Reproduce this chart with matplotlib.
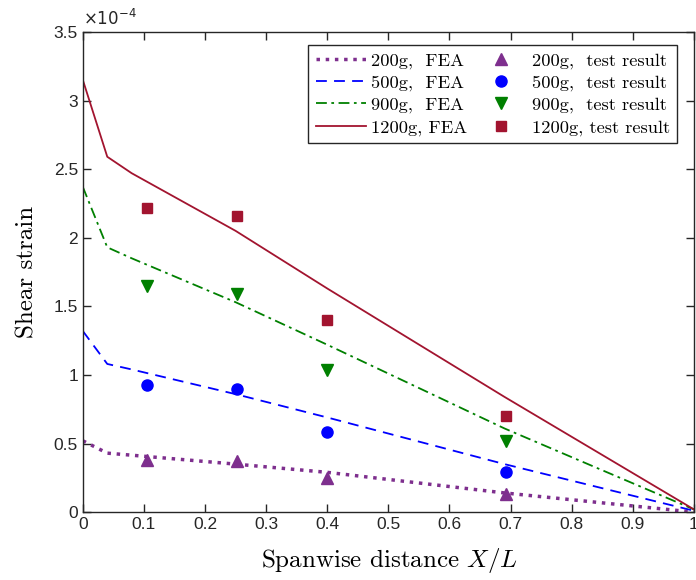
import matplotlib
matplotlib.use("Agg")
import matplotlib.pyplot as plt
import matplotlib.font_manager as fm
from matplotlib.ticker import MultipleLocator, FuncFormatter

# FEA curves (x, strain in units of 1e-4)
fea_x = [0.0, 0.04, 0.08, 0.25, 0.4, 0.69, 1.0]
fea_200 = [0.52, 0.43, 0.415, 0.35, 0.29, 0.14, 0.0]
fea_500 = [1.32, 1.08, 1.04, 0.86, 0.69, 0.35, 0.01]
fea_900 = [2.37, 1.93, 1.85, 1.53, 1.22, 0.61, 0.02]
fea_1200 = [3.15, 2.59, 2.47, 2.05, 1.63, 0.84, 0.02]

# Test results (strain in units of 1e-4)
test_x = [0.105, 0.252, 0.399, 0.693]
test_200 = [0.38, 0.37, 0.25, 0.13]
test_500 = [0.925, 0.895, 0.585, 0.29]
test_900 = [1.65, 1.59, 1.035, 0.52]
test_1200 = [2.22, 2.155, 1.40, 0.70]

purple = "#7E2F8E"
blue = "#0000FF"
green = "#008000"
red = "#A2142F"
axcol = "#262626"

plt.rcParams["mathtext.fontset"] = "cm"

serif_family = "DejaVu Serif"
try:
    fm.findfont("cmr10", fallback_to_default=False)
    serif_family = "cmr10"
except Exception:
    pass

fig = plt.figure(figsize=(6.96, 5.8), dpi=100)
ax = fig.add_axes([0.119, 0.117, 0.878, 0.828])

l1, = ax.plot(fea_x, fea_200, ":", color=purple, lw=2.5, label="200g,  FEA")
l2, = ax.plot(fea_x, fea_500, "--", color=blue, lw=1.3, dashes=(6, 4), label="500g,  FEA")
l3, = ax.plot(fea_x, fea_900, "-.", color=green, lw=1.3, dashes=(6, 2.5, 1.5, 2.5), label="900g,  FEA")
l4, = ax.plot(fea_x, fea_1200, "-", color=red, lw=1.3, label="1200g, FEA")

m1, = ax.plot(test_x, test_200, "^", color=purple, ms=8.5, ls="none", label="200g,  test result")
m2, = ax.plot(test_x, test_500, "o", color=blue, ms=8, ls="none", label="500g,  test result")
m3, = ax.plot(test_x, test_900, "v", color=green, ms=8.5, ls="none", label="900g,  test result")
m4, = ax.plot(test_x, test_1200, "s", color=red, ms=7, ls="none", label="1200g, test result")

ax.set_xlim(0, 1)
ax.set_ylim(0, 3.5)
ax.xaxis.set_major_locator(MultipleLocator(0.1))
ax.yaxis.set_major_locator(MultipleLocator(0.5))
fmt = FuncFormatter(lambda v, p: "%g" % round(v, 6))
ax.xaxis.set_major_formatter(fmt)
ax.yaxis.set_major_formatter(fmt)

for s in ax.spines.values():
    s.set_color(axcol)
    s.set_linewidth(1.0)
ax.tick_params(direction="in", top=True, right=True, length=6, width=1.0,
               colors=axcol, labelsize=12.5, labelcolor=axcol)
for lab in ax.get_xticklabels() + ax.get_yticklabels():
    lab.set_fontfamily("Liberation Sans")

ax.text(0.0, 1.005, r"$\times10^{-4}$", transform=ax.transAxes, fontsize=12,
        color=axcol, math_fontfamily="dejavusans", ha="left", va="bottom")

fig.text(389.5 / 696, 1 - 567 / 580, r"Spanwise distance $X/L$", fontsize=18,
         family=serif_family, ha="center", va="baseline")

ax.set_ylabel("Shear strain", fontsize=18, family=serif_family)
ax.yaxis.set_label_coords(-0.073, 0.5)

leg = ax.legend(handles=[l1, l2, l3, l4, m1, m2, m3, m4], ncol=2,
                loc="upper right", bbox_to_anchor=(0.973, 0.973),
                borderaxespad=0.0,
                fancybox=False, edgecolor=axcol, framealpha=1,
                prop={"size": 13.3, "family": serif_family}, handlelength=2.7,
                columnspacing=0.5, handletextpad=0.3, labelspacing=0.32,
                borderpad=0.4)
leg.get_frame().set_linewidth(1.0)

fig.savefig("out.png", dpi=100)
